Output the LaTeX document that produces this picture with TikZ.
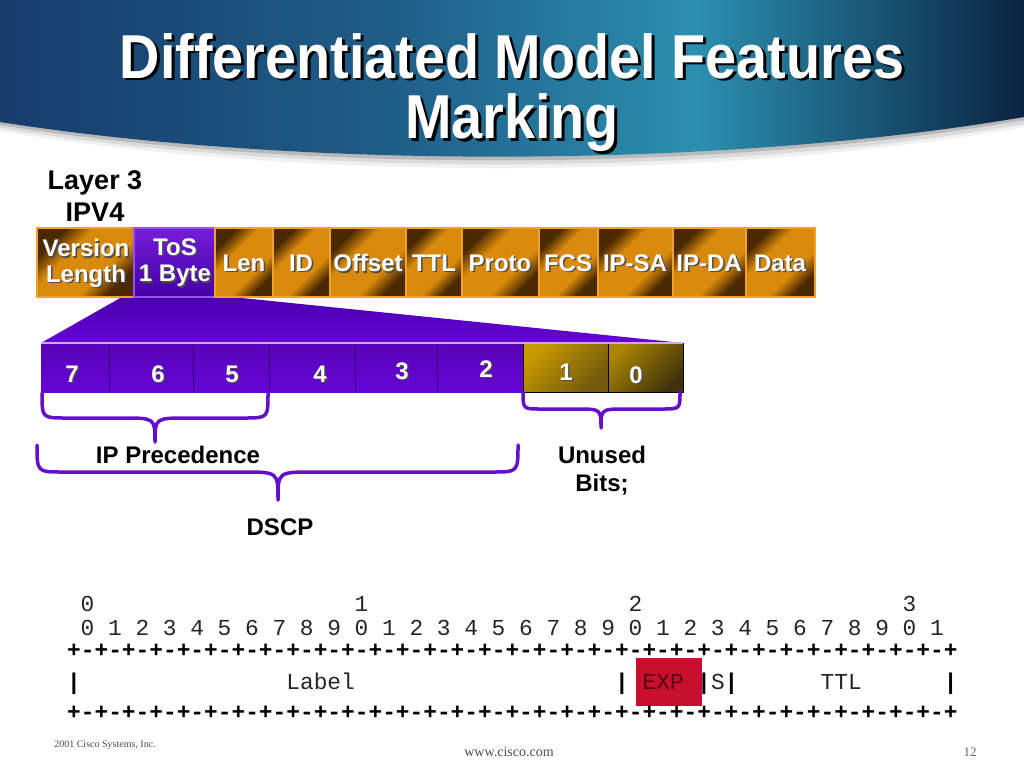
\documentclass[tikz,border=0pt]{standalone}
\usepackage{fontspec}
\setmainfont{Liberation Sans}
\newfontfamily\titlefont[FakeStretch=0.9]{Liberation Sans}
\newfontfamily\monofont{Liberation Mono}
\newfontfamily\seriffont{Liberation Serif}
\definecolor{navy}{HTML}{163C6C}
\definecolor{tealc}{HTML}{2C8FB0}
\definecolor{deepnavy}{HTML}{0A2442}
\definecolor{orng}{HTML}{D98A0C}
\definecolor{brwn}{HTML}{4A2800}
\definecolor{orngline}{HTML}{F0A22A}
\definecolor{purp}{HTML}{6604D6}
\definecolor{purpdark}{HTML}{4200A4}
\definecolor{purpline}{HTML}{9A50F0}
\definecolor{bracec}{HTML}{6410C8}
\definecolor{goldc}{HTML}{C89A00}
\definecolor{olivec}{HTML}{5A4810}
\definecolor{expred}{HTML}{C8102E}
\pgfdeclarehorizontalshading{banner}{100bp}{color(0bp)=(navy); color(25bp)=(navy); color(44bp)=(navy!60!tealc); color(59bp)=(tealc); color(75bp)=(deepnavy); color(100bp)=(deepnavy)}
\pgfdeclareverticalshading{boxsh}{100bp}{color(0bp)=(brwn); color(27bp)=(brwn); color(39bp)=(orng); color(61bp)=(orng); color(73bp)=(brwn); color(100bp)=(brwn)}
\tikzset{
  hdr/.style={draw=orngline, line width=1.2pt, shading=boxsh, shading angle=45},
  wht/.style={text=white, font=\bfseries\fontsize{24}{26}\selectfont, inner sep=0pt},
  shd/.style={text=black!70, font=\bfseries\fontsize{24}{26}\selectfont, inner sep=0pt},
  blk/.style={text=black, font=\bfseries\fontsize{24}{26}\selectfont, inner sep=0pt},
  bracepath/.style={draw=bracec, line width=3.5pt, line cap=round, line join=round},
  mono/.style={text=black!85, font=\monofont\fontsize{22.83}{24}\selectfont, inner sep=0pt, anchor=base},
  monob/.style={text=black, font=\monofont\bfseries\fontsize{22.83}{24}\selectfont, inner sep=0pt, anchor=base},
  ttl/.style={font=\titlefont\bfseries\fontsize{62}{66}\selectfont, inner sep=0pt, anchor=base},
}
\newcommand\shlabel[4]{%
  \node[shd] (#1s) at (#2+1.5,#3+1.5) {#4};
  \node[wht] (#1) at (#2,#3) {#4};}
\def\rg{+-+-+-+-}
\begin{document}
\begin{tikzpicture}[x=1pt,y=-1pt]
\useasboundingbox (0,0) rectangle (1024,768);
\fill[white] (0,0) rectangle (1024,768);
% banner shadow
\fill[black!6] (0,0) -- (0,131) .. controls (300,181) and (720,181) .. (1024,127) -- (1024,0) -- cycle;
\fill[black!14] (0,0) -- (0,128) .. controls (300,177) and (720,177) .. (1024,124) -- (1024,0) -- cycle;
\fill[black!28] (0,0) -- (0,125) .. controls (300,173) and (720,173) .. (1024,120) -- (1024,0) -- cycle;
% banner
\shade[shading=banner] (0,0) -- (0,122) .. controls (300,169) and (720,169) .. (1024,117) -- (1024,0) -- cycle;
% title
\node[ttl, text=black] (t1s) at (515,81) {Differentiated Model Features};
\node[ttl, text=white] (t1) at (512,78) {Differentiated Model Features};
\node[ttl, text=black] (t2s) at (515,141) {Marking};
\node[ttl, text=white] (t2) at (512,138) {Marking};
% Layer 3 IPV4
\node[text=black, font=\bfseries\fontsize{27}{29}\selectfont, inner sep=0pt] (l3) at (95,183) {Layer 3};
\node[text=black, font=\bfseries\fontsize{27}{29}\selectfont, inner sep=0pt] (ip4) at (95,212) {IPV4};
% trapezoid
\shade[top color=purpdark!80!purp, bottom color=purp] (122,297) -- (232,297) -- (683,343) -- (41,343) -- cycle;
% header boxes
\shade[hdr] (37,228) rectangle (134,297);
\shade[draw=purpline, line width=1.2pt, top color=purp!90!white, bottom color=purpdark] (134,228) rectangle (215,297);
\foreach \a/\b in {215/273,273/330,330/406,406/462,462/539,539/598,598/673,673/746,746/815}
  \shade[hdr] (\a,228) rectangle (\b,297);
\shlabel{ver}{86}{248}{Version}
\shlabel{len}{86}{276}{Length}
\shlabel{tos}{175}{247}{ToS}
\shlabel{byte}{175}{276}{1 Byte}
\shlabel{flen}{244}{263}{Len}
\shlabel{fid}{301}{263}{ID}
\shlabel{foff}{368}{263}{Offset}
\shlabel{fttl}{434}{263}{TTL}
\shlabel{fpro}{500}{263}{Proto}
\shlabel{ffcs}{568}{263}{FCS}
\shlabel{fsa}{635}{263}{IP-SA}
\shlabel{fda}{709}{263}{IP-DA}
\shlabel{fdat}{780}{263}{Data}
% bit row
\shade[top color=purp!85!black, bottom color=purp] (41,343) rectangle (523,392);
\foreach \x in {109,193,269,355,437}
  \draw[purpdark!70!black, line width=0.8pt] (\x,343) -- (\x,392);
\shade[draw=black, line width=1pt, top color=goldc, bottom color=olivec!80!goldc, shading angle=45] (523,343) rectangle (608,392);
\shade[draw=black, line width=1pt, top color=goldc!75!olivec, bottom color=olivec!70!black, shading angle=45] (608,343) rectangle (683,392);
\draw[purpline!50!white, line width=1.5pt] (41,343) -- (683,343);
\shlabel{b7}{72}{374}{7}
\shlabel{b6}{158}{374}{6}
\shlabel{b5}{232}{374}{5}
\shlabel{b4}{320}{374}{4}
\shlabel{b3}{402}{371}{3}
\shlabel{b2}{486}{369}{2}
\shlabel{b1}{566}{372}{1}
\shlabel{b0}{636}{375}{0}
% braces
\draw[bracepath] (42,393) .. controls (42,418) .. (66,418) -- (122,418) .. controls (155,418) .. (155,442) .. controls (155,418) .. (188,418) -- (244,418) .. controls (268,418) .. (268,393);
\draw[bracepath] (37,445) .. controls (37,472) .. (63,472) -- (243,472) .. controls (278,472) .. (278,500) .. controls (278,472) .. (313,472) -- (492,472) .. controls (518,472) .. (518,445);
\draw[bracepath] (523,392) .. controls (523,409) .. (541,409) -- (576,409) .. controls (601,409) .. (601,428) .. controls (601,409) .. (626,409) -- (662,409) .. controls (680,409) .. (680,392);
\node[blk] (ipp) at (178,455) {IP Precedence};
\node[blk] (unu) at (602,455) {Unused};
\node[blk] (bts) at (602,485) {Bits;};
\node[blk] (dscp) at (280,527) {DSCP};
% MPLS label ascii
\fill[expred] (636,658) rectangle (702,706);
\node[mono] (h0) at ({67+13.7*1.5},611) {0};
\node[mono] (h1) at ({67+13.7*21.5},611) {1};
\node[mono] (h2) at ({67+13.7*41.5},611) {2};
\node[mono] (h3) at ({67+13.7*61.5},611) {3};
\foreach \i in {0,...,31} {
  \pgfmathtruncatemacro\d{mod(\i,10)}
  \node[mono] (d\i) at ({67+13.7*(2*\i+1.5)},635) {\d};
}
\node[monob, anchor=base west] (r1) at (67,657) {\rg\rg\rg\rg\rg\rg\rg\rg+};
\node[monob, anchor=base west] (r2) at (67,719) {\rg\rg\rg\rg\rg\rg\rg\rg+};
\foreach \i in {0,40,46,48,64}
  \node[monob] (bar\i) at ({67+13.7*(\i+0.5)},689) {|};
\node[mono, anchor=base west] (lab) at ({67+13.7*16},689) {Label};
\node[mono, anchor=base west, text=expred!45!black] (exp) at ({67+13.7*42},689) {EXP};
\node[mono, anchor=base west] (sbit) at ({67+13.7*47},689) {S};
\node[mono, anchor=base west] (ttl) at ({67+13.7*55},689) {TTL};
% footer
\node[font=\seriffont\fontsize{10}{12}\selectfont, text=black!70, inner sep=0pt] (copy) at (105,745) {2001 Cisco Systems, Inc.};
\node[font=\seriffont\fontsize{14}{16}\selectfont, text=black!70, inner sep=0pt] (www) at (509,752) {www.cisco.com};
\node[font=\seriffont\fontsize{13}{15}\selectfont, text=black!60, inner sep=0pt] (pg) at (970,752) {12};
\end{tikzpicture}
\end{document}
